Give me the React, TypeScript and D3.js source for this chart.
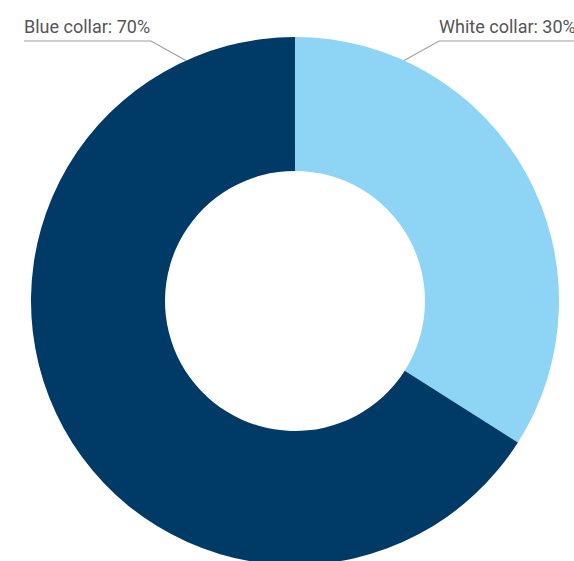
import React from "react";
import * as d3 from "d3";

const categories = ["White collar", "Blue collar"];
const values = [34, 66];
const labelTexts = ["White collar: 30%", "Blue collar: 70%"];
const colors = ["#8dd4f5", "#003a66"];

const W = 574;
const H = 561;
const cx = 295;
const cy = 301;
const outerR = 264;
const innerR = 130;

export default function App() {
  const pie = d3.pie<number>().sort(null).value((d) => d)(values);
  const arc = d3.arc<d3.PieArcDatum<number>>().innerRadius(innerR).outerRadius(outerR);
  const connectorAngle = 24.4 * (Math.PI / 180);
  const labelY = 41;
  return (
    <svg
      width={W}
      height={H}
      style={{ position: "absolute", left: 0, top: 0, display: "block" }}
      fontFamily="Roboto, sans-serif"
    >
      <g transform={`translate(${cx},${cy})`}>
        {pie.map((p, i) => (
          <path key={categories[i]} d={arc(p) || ""} fill={colors[i]} />
        ))}
      </g>
      {categories.map((c, i) => {
        const side = i === 0 ? 1 : -1;
        const ex = cx + side * outerR * Math.sin(connectorAngle);
        const ey = cy - outerR * Math.cos(connectorAngle);
        const kneeX = ex + side * 35;
        const textX = i === 0 ? kneeX : 24;
        const lineEndX = i === 0 ? W + 10 : 24;
        return (
          <g key={c}>
            <polyline
              points={`${ex},${ey} ${kneeX},${labelY} ${lineEndX},${labelY}`}
              fill="none"
              stroke="#a0a0a0"
              strokeWidth={1.2}
            />
            <text x={textX} y={33} fontSize={18} fill="#555">
              {labelTexts[i]}
            </text>
          </g>
        );
      })}
    </svg>
  );
}
